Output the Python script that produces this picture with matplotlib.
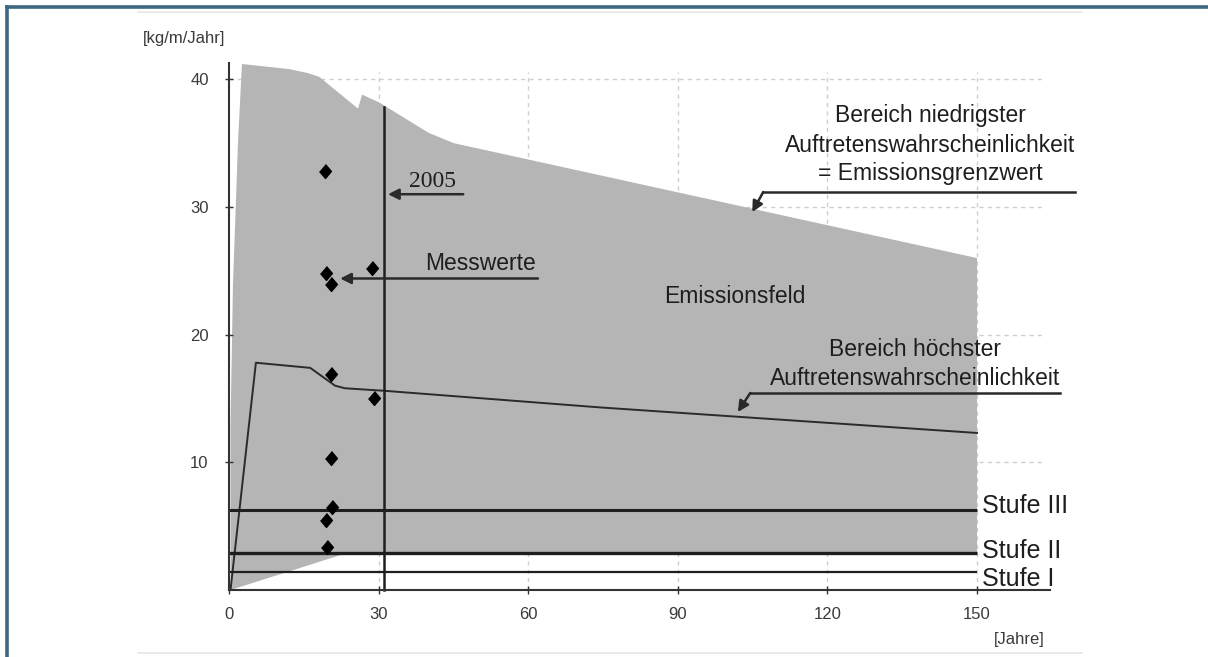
import numpy as np
import matplotlib
matplotlib.use("Agg")
import matplotlib.pyplot as plt
from matplotlib.lines import Line2D

# ---- data -------------------------------------------------------------
# upper boundary of the emission field (Emissionsgrenzwert)
upper_x = [0.2, 0.2, 0.7, 1.3, 1.7, 2.5, 12.0, 15.6, 18.0, 25.8, 26.6, 30.0, 35.0, 40.0, 45.0, 150.0]
upper_y = [0.0, 12.7, 24.0, 30.5, 35.0, 41.2, 40.8, 40.5, 40.2, 37.7, 38.8, 38.2, 37.0, 35.8, 35.0, 26.0]
# lower boundary of the emission field
lower_x = [0.2, 22.8, 150.0]
lower_y = [0.0, 2.8, 2.85]
# range of highest probability of occurrence
hp_x = [0.2, 5.3, 16.2, 21.2, 23.2, 31.2, 74.4, 150.0]
hp_y = [0.0, 17.8, 17.4, 16.0, 15.8, 15.6, 14.3, 12.3]
# measured values (Messwerte)
mess_x = [19.2, 19.4, 20.4, 28.6, 20.4, 29.0, 20.4, 20.6, 19.4, 19.6]
mess_y = [32.8, 24.8, 24.0, 25.2, 16.9, 15.0, 10.3, 6.5, 5.5, 3.4]
# limit levels
stufen_names = ["Stufe III", "Stufe II", "Stufe I"]
stufen_y = [6.3, 2.9, 1.4]
year_2005 = 31.0

xticks = [0, 30, 60, 90, 120, 150]
yticks = [10, 20, 30, 40]

# ---- figure -----------------------------------------------------------
W, H = 1208, 657
fig = plt.figure(figsize=(W / 100, H / 100), dpi=100)
fig.patch.set_facecolor("white")
ax = fig.add_axes([0.16935, 0.06312, 0.72192, 0.89388])
ax.set_xlim(-5, 170)
ax.set_ylim(-2, 44)
ax.set_facecolor("none")

sans = ["Liberation Sans", "DejaVu Sans"]
serif = ["Liberation Serif", "DejaVu Serif"]
ink = "#1e1e1e"
grey_fill = "#b5b5b5"

# dashed grid, behind everything
grid_kw = dict(color="#cfcfcf", lw=1.0, linestyle=(0, (3, 3)), zorder=0)
ax.hlines(yticks, 0, 163.5, **grid_kw)
ax.vlines(xticks[1:], 0, 40.6, **grid_kw)

# emission field
poly_x = list(upper_x) + list(lower_x[::-1])
poly_y = list(upper_y) + list(lower_y[::-1])
ax.fill(poly_x, poly_y, color=grey_fill, lw=0, zorder=1)

# highest probability line
ax.plot(hp_x, hp_y, color="#2a2a2a", lw=1.4, zorder=3)

# limit levels
for yv, lw in zip(stufen_y, [2.2, 2.4, 1.6]):
    ax.plot([0, 150], [yv, yv], color=ink, lw=lw, zorder=3, solid_capstyle="butt")
label_base = [6.03, 2.5, 0.31]
for name, yb in zip(stufen_names, label_base):
    ax.text(151.0, yb, name, fontsize=18, family=sans, color=ink,
            ha="left", va="baseline", zorder=5)

# year 2005 marker
ax.plot([year_2005, year_2005], [0, 37.8], color=ink, lw=1.8, zorder=4)

# measured values
diamond = [(0, 1), (0.85, 0), (0, -1), (-0.85, 0)]
ax.plot(mess_x, mess_y, linestyle="none", marker=diamond, markersize=10,
        color="black", zorder=6)

# axes lines and ticks
ax.spines[["top", "right"]].set_visible(False)
ax.spines["left"].set_position(("data", 0))
ax.spines["bottom"].set_position(("data", 0))
ax.spines["left"].set_bounds(0, 41.3)
ax.spines["bottom"].set_bounds(0, 164.7)
for s in ("left", "bottom"):
    ax.spines[s].set_color("#333333")
    ax.spines[s].set_linewidth(1.5)
    ax.spines[s].set_zorder(4)
ax.set_xticks(xticks)
ax.set_yticks(yticks)
ax.set_xticklabels([str(v) for v in xticks])
ax.set_yticklabels([str(v) for v in yticks])
ax.tick_params(axis="both", direction="inout", length=6, width=1.0,
               color="#333333", labelsize=12, labelcolor="#3a3a3a")
ax.tick_params(axis="x", pad=9)
ax.tick_params(axis="y", pad=12)
for lab in ax.get_xticklabels() + ax.get_yticklabels():
    lab.set_family(sans)

# axis units
ax.text(-17.4, 43.2, "[kg/m/Jahr]", fontsize=12, family=sans, color="#3a3a3a",
        ha="left", va="center")
ax.text(158.4, -3.9, "[Jahre]", fontsize=12, family=sans, color="#3a3a3a",
        ha="center", va="center")

# annotations
arrow_kw = dict(arrowstyle="-|>", color="#2a2a2a", lw=1.8, mutation_scale=16,
                shrinkA=0, shrinkB=0)
ax.text(40.8, 32.0, "2005", fontsize=17, family=serif, color=ink,
        ha="center", va="center", zorder=6)
ax.annotate("", xy=(31.8, 31.0), xytext=(46.9, 31.0), arrowprops=arrow_kw, zorder=6)

ax.text(50.3, 25.6, "Messwerte", fontsize=16.5, family=sans, color=ink,
        ha="center", va="center", zorder=6)
ax.annotate("", xy=(22.2, 24.4), xytext=(61.9, 24.4), arrowprops=arrow_kw, zorder=6)

ax.text(101.4, 22.95, "Emissionsfeld", fontsize=16.5, family=sans, color=ink,
        ha="center", va="center", zorder=6)

for txt, yv in zip(["Bereich niedrigster", "Auftretenswahrscheinlichkeit",
                    "= Emissionsgrenzwert"], [37.2, 34.85, 32.6]):
    ax.text(140.6, yv, txt, fontsize=16.5, family=sans, color=ink,
            ha="center", va="center", zorder=6)
ax.plot([169.7, 107.1], [31.17, 31.17], color="#2a2a2a", lw=1.8, clip_on=False, zorder=6)
ax.annotate("", xy=(104.9, 29.6), xytext=(107.1, 31.17), arrowprops=arrow_kw, zorder=6)

for txt, yv in zip(["Bereich höchster", "Auftretenswahrscheinlichkeit"], [18.8, 16.6]):
    ax.text(137.6, yv, txt, fontsize=16.5, family=sans, color=ink,
            ha="center", va="center", zorder=6)
ax.plot([166.7, 104.5], [15.43, 15.43], color="#2a2a2a", lw=1.8, clip_on=False, zorder=6)
ax.annotate("", xy=(102.0, 13.94), xytext=(104.5, 15.43), arrowprops=arrow_kw, zorder=6)

# page frame and rules
frame = "#3e6880"
fig.add_artist(Line2D([7 / W, 1.0], [1 - 7 / H, 1 - 7 / H], color=frame, lw=2.6,
                      transform=fig.transFigure))
fig.add_artist(Line2D([7 / W, 7 / W], [0.0, 1 - 7 / H], color=frame, lw=2.6,
                      transform=fig.transFigure))
for yp in (12, 653):
    fig.add_artist(Line2D([138 / W, 1082 / W], [1 - yp / H, 1 - yp / H],
                          color="#e6e6e6", lw=1.2, transform=fig.transFigure))

fig.savefig("out.png", dpi=100)
